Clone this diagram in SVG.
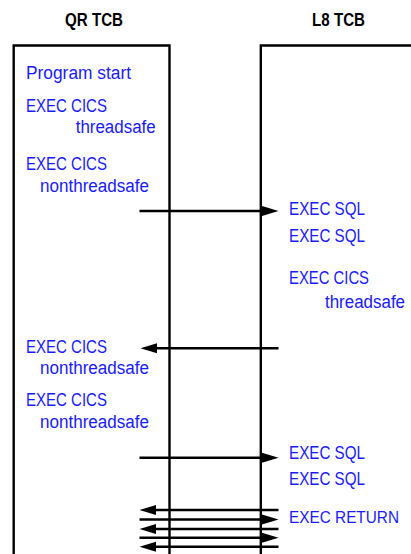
<svg xmlns="http://www.w3.org/2000/svg" width="411" height="554" viewBox="0 0 411 554">
<style>
.h{font-family:"Liberation Sans",Arial,sans-serif;font-weight:bold;font-size:17.5px;fill:#000}
.t{font-family:"Liberation Sans",Arial,sans-serif;font-size:18px;fill:#1a1aff}
.box{fill:none;stroke:#000;stroke-width:2.4}
.c{stroke:#000;stroke-width:2.4;fill:none}
</style>
<defs>
<marker id="ah" markerUnits="userSpaceOnUse" markerWidth="17" markerHeight="11" refX="0" refY="5" orient="auto" viewBox="0 0 17 10">
<path d="M0,0 L16.5,5 L0,10 z" fill="#000"/>
</marker>
</defs>
<rect width="411" height="554" fill="#fff"/>
<g id="qr">
<text class="h" x="65" y="25.7" textLength="58" lengthAdjust="spacingAndGlyphs">QR TCB</text>
<path class="box" d="M13.7,560 V45.5 H169.5 V560"/>
<text class="t" x="26" y="79" textLength="105" lengthAdjust="spacingAndGlyphs">Program start</text>
<text class="t" x="26" y="112.3" textLength="81" lengthAdjust="spacingAndGlyphs">EXEC CICS</text>
<text class="t" x="75.7" y="133.3" textLength="80" lengthAdjust="spacingAndGlyphs">threadsafe</text>
<text class="t" x="26" y="170" textLength="81" lengthAdjust="spacingAndGlyphs">EXEC CICS</text>
<text class="t" x="40" y="192" textLength="109" lengthAdjust="spacingAndGlyphs">nonthreadsafe</text>
<text class="t" x="26" y="353.3" textLength="81" lengthAdjust="spacingAndGlyphs">EXEC CICS</text>
<text class="t" x="40" y="374.3" textLength="109" lengthAdjust="spacingAndGlyphs">nonthreadsafe</text>
<text class="t" x="26" y="406" textLength="81" lengthAdjust="spacingAndGlyphs">EXEC CICS</text>
<text class="t" x="40" y="427.5" textLength="109" lengthAdjust="spacingAndGlyphs">nonthreadsafe</text>
</g>
<g id="l8">
<text class="h" x="312" y="25.7" textLength="53" lengthAdjust="spacingAndGlyphs">L8 TCB</text>
<path class="box" d="M420,45.5 H260.8 V560"/>
<text class="t" x="289" y="215" textLength="76" lengthAdjust="spacingAndGlyphs">EXEC SQL</text>
<text class="t" x="289" y="241.7" textLength="76" lengthAdjust="spacingAndGlyphs">EXEC SQL</text>
<text class="t" x="289" y="284" textLength="80" lengthAdjust="spacingAndGlyphs">EXEC CICS</text>
<text class="t" x="325" y="308" textLength="80" lengthAdjust="spacingAndGlyphs">threadsafe</text>
<text class="t" x="289" y="459" textLength="76" lengthAdjust="spacingAndGlyphs">EXEC SQL</text>
<text class="t" x="289" y="485" textLength="76" lengthAdjust="spacingAndGlyphs">EXEC SQL</text>
<text class="t" x="289" y="523.3" style="font-size:17px" textLength="110" lengthAdjust="spacingAndGlyphs">EXEC RETURN</text>
</g>
<g id="connectors" class="c">
<line x1="139.5" y1="211" x2="262" y2="211" marker-end="url(#ah)"/>
<line x1="278.5" y1="348.3" x2="157" y2="348.3" marker-end="url(#ah)"/>
<line x1="139.5" y1="457.7" x2="262" y2="457.7" marker-end="url(#ah)"/>
<line x1="278.5" y1="510" x2="156" y2="510" marker-end="url(#ah)"/>
<line x1="139.5" y1="519.5" x2="262" y2="519.5" marker-end="url(#ah)"/>
<line x1="278.5" y1="529" x2="156" y2="529" marker-end="url(#ah)"/>
<line x1="139.5" y1="537.8" x2="262" y2="537.8" marker-end="url(#ah)"/>
<line x1="278.5" y1="546.7" x2="156" y2="546.7" marker-end="url(#ah)"/>
</g>
</svg>
